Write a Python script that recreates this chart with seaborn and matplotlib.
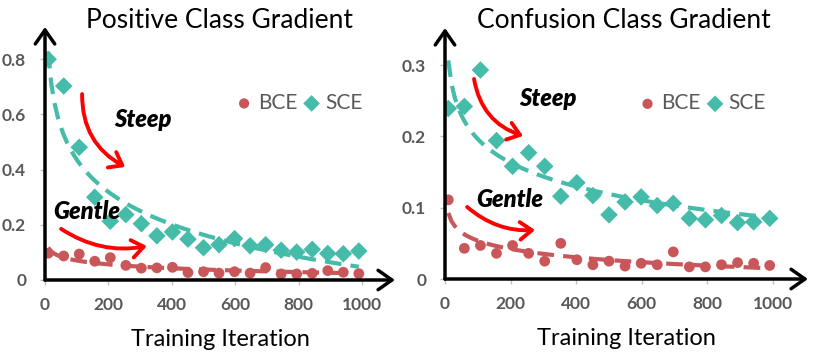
import numpy as np
import pandas as pd
import matplotlib
matplotlib.use("Agg")
import matplotlib.pyplot as plt
import seaborn as sns

# ---------------- data ----------------
iters = [10, 59, 108, 157, 206, 255, 304, 353, 402, 451, 500,
         549, 598, 647, 696, 745, 794, 843, 892, 941, 990]

pos_sce = [0.80, 0.703, 0.481, 0.300, 0.213, 0.237, 0.204, 0.160, 0.174, 0.148, 0.117,
           0.128, 0.150, 0.124, 0.128, 0.108, 0.101, 0.111, 0.096, 0.095, 0.105]
pos_bce = [0.097, 0.087, 0.094, 0.068, 0.081, 0.053, 0.043, 0.044, 0.046, 0.027, 0.030,
           0.025, 0.030, 0.025, 0.045, 0.022, 0.022, 0.024, 0.034, 0.028, 0.023]

conf_sce = [0.239, 0.242, 0.293, 0.194, 0.158, 0.177, 0.158, 0.116, 0.135, 0.117, 0.090,
            0.108, 0.115, 0.103, 0.106, 0.085, 0.083, 0.089, 0.079, 0.080, 0.085]
conf_bce = [0.111, 0.043, 0.047, 0.036, 0.047, 0.036, 0.025, 0.050, 0.027, 0.020, 0.025,
            0.018, 0.022, 0.020, 0.038, 0.017, 0.017, 0.020, 0.023, 0.022, 0.019]

titles = ["Positive Class Gradient", "Confusion Class Gradient"]
xlabel = "Training Iteration"
series_names = ["BCE", "SCE"]
x_ticks = [0, 200, 400, 600, 800, 1000]
pos_yticks = [0, 0.2, 0.4, 0.6, 0.8]
pos_ytick_labels = ["0", "0.2", "0.4", "0.6", "0.8"]
conf_yticks = [0, 0.1, 0.2, 0.3]
conf_ytick_labels = ["0", "0.1", "0.2", "0.3"]

# ---------------- style ----------------
sns.set_theme(style="white")
plt.rcParams["font.family"] = ["Lato", "DejaVu Sans"]

C_BCE = "#C9575A"
C_SCE = "#45BBAA"
GRAY = "#595959"

fig = plt.figure(figsize=(8.14, 3.57), dpi=100)
ax1 = fig.add_axes([45/814, 1-280/357, 350/814, 253/357])
ax2 = fig.add_axes([445/814, 1-279/357, 363/814, 251/357])

panels = [
    (ax1, pos_bce, pos_sce, pos_yticks, pos_ytick_labels, 350/(317/1000), 253/275.9, 220, 0.545),
    (ax2, conf_bce, conf_sce, conf_yticks, conf_ytick_labels, 363/(328/1000), 251/713.3, 624, 0.535),
]

for i, (ax, bce, sce, yt, ytl, xtop, ytop, title_x, leg_x) in enumerate(panels):
    df = pd.DataFrame({"iter": iters, "BCE": bce, "SCE": sce})
    # trend lines (logarithmic fits, like an Excel log trendline)
    sns.regplot(data=df, x="iter", y="SCE", logx=True, ci=None, scatter=False, ax=ax,
                line_kws=dict(color=C_SCE, lw=3, dashes=(4, 2.2)))
    sns.regplot(data=df, x="iter", y="BCE", logx=True, ci=None, scatter=False, ax=ax,
                line_kws=dict(color=C_BCE, lw=3, dashes=(4, 2.2)))
    sns.scatterplot(data=df, x="iter", y="BCE", ax=ax, color=C_BCE, marker="o", s=60,
                    edgecolor="none", zorder=3, label=series_names[0])
    sns.scatterplot(data=df, x="iter", y="SCE", ax=ax, color=C_SCE, marker="D", s=80,
                    edgecolor="none", zorder=3, label=series_names[1])

    ax.set_xlim(0, xtop)
    ax.set_ylim(0, ytop)
    ax.set_xticks(x_ticks)
    ax.set_xticklabels([str(t) for t in x_ticks])
    ax.set_yticks(yt)
    ax.set_yticklabels(ytl)
    ax.tick_params(axis="both", which="both", length=3.5, width=1, color="#BFBFBF",
                   labelsize=12.5, labelcolor=GRAY, direction="out")
    ax.tick_params(axis="x", pad=9)
    ax.tick_params(axis="y", pad=10)
    for lab in ax.get_xticklabels() + ax.get_yticklabels():
        lab.set_fontweight("bold")
    for sp in ax.spines.values():
        sp.set_visible(False)
    ax.tick_params(bottom=True, left=True)
    ax.set_xlabel(xlabel, fontsize=17, color="black", labelpad=11)
    ax.set_ylabel("")
    fig.text(title_x/814, 1-28/357, titles[i], fontsize=19, color="black",
             ha="center", va="baseline")
    # axis arrows
    for end in [(1.0, 0), (0, 1.0)]:
        ax.annotate("", xy=end, xytext=(0, 0), xycoords="axes fraction",
                    arrowprops=dict(arrowstyle="->,head_length=0.5,head_width=0.35",
                                    lw=2.5, color="black", mutation_scale=20,
                                    shrinkA=0, shrinkB=0), annotation_clip=False)
    leg = ax.legend(loc="center left", bbox_to_anchor=(leg_x, 0.70), ncol=2, frameon=False,
                    fontsize=15, handletextpad=0.25, columnspacing=0.3, handlelength=0.8,
                    markerscale=0.95, borderaxespad=0, borderpad=0)
    for t in leg.get_texts():
        t.set_color(GRAY)

# labels and red arrows
txt_kw = dict(fontsize=17, fontweight="heavy", fontstyle="italic", color="black",
              ha="center", va="center")
ax1.text(0.281, 0.636, "Steep", transform=ax1.transAxes, **txt_kw)
ax1.text(0.12, 0.269, "Gentle", transform=ax1.transAxes, **txt_kw)
ax2.text(0.284, 0.721, "Steep", transform=ax2.transAxes, **txt_kw)
ax2.text(0.179, 0.315, "Gentle", transform=ax2.transAxes, **txt_kw)

red_kw = dict(arrowstyle="->,head_length=0.6,head_width=0.45", lw=2.8, color="#FF0000",
              mutation_scale=14, shrinkA=0, shrinkB=0)
ax1.annotate("", xy=(0.229, 0.447), xytext=(0.106, 0.735), xycoords="axes fraction",
             arrowprops=dict(connectionstyle="arc3,rad=0.3", **red_kw))
ax1.annotate("", xy=(0.291, 0.134), xytext=(0.046, 0.202), xycoords="axes fraction",
             arrowprops=dict(connectionstyle="arc3,rad=0.2", **red_kw))
ax2.annotate("", xy=(0.215, 0.570), xytext=(0.080, 0.797), xycoords="axes fraction",
             arrowprops=dict(connectionstyle="arc3,rad=0.3", **red_kw))
ax2.annotate("", xy=(0.248, 0.195), xytext=(0.061, 0.287), xycoords="axes fraction",
             arrowprops=dict(connectionstyle="arc3,rad=0.2", **red_kw))

fig.savefig("out.png", dpi=100)
